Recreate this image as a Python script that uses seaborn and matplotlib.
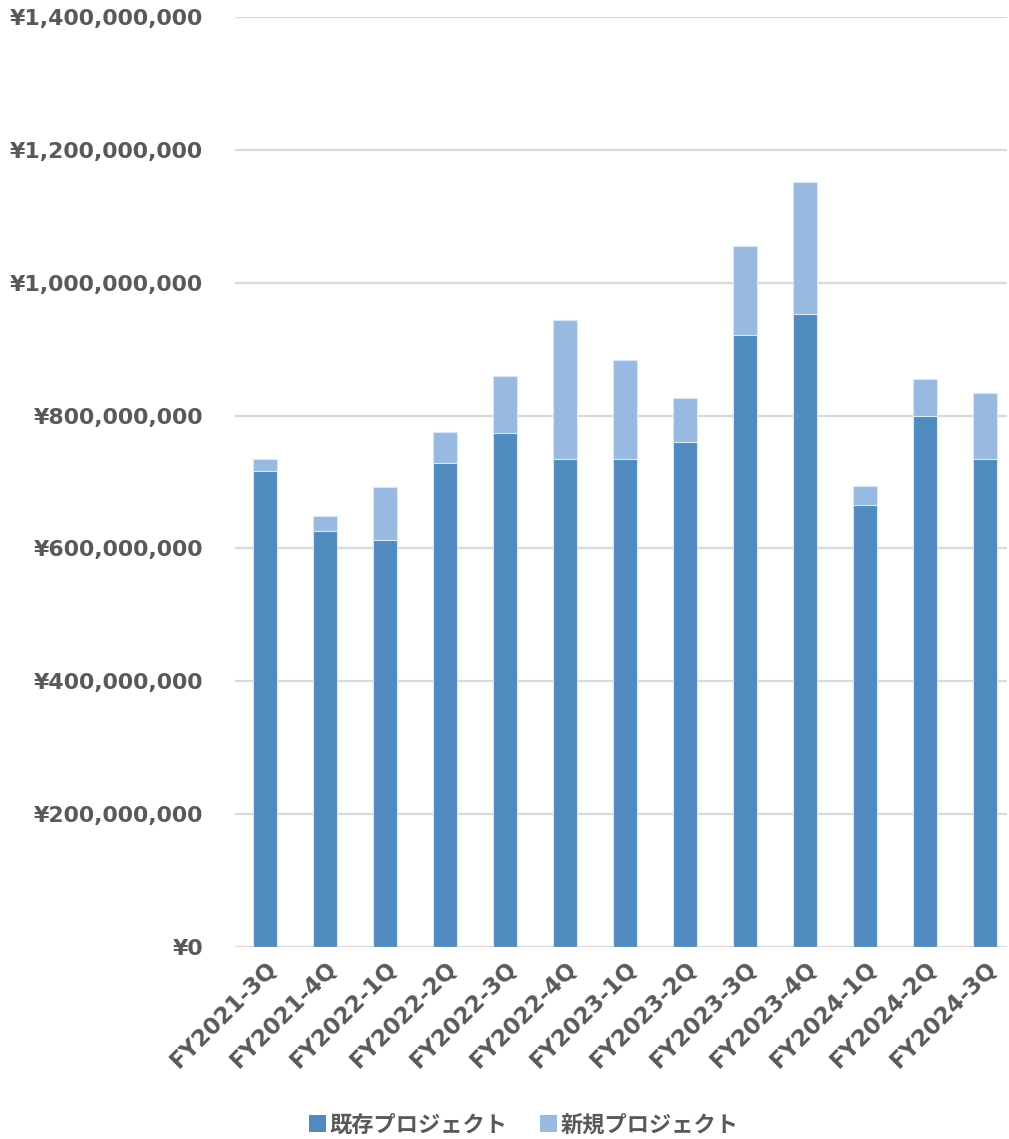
import matplotlib
matplotlib.use("Agg")
import matplotlib.pyplot as plt
from matplotlib.patches import Patch
from matplotlib.ticker import FuncFormatter, MultipleLocator
import numpy as np
import pandas as pd
import seaborn as sns

# Quarterly revenue by project type (yen)
quarters = ["FY2021-3Q", "FY2021-4Q", "FY2022-1Q", "FY2022-2Q", "FY2022-3Q",
            "FY2022-4Q", "FY2023-1Q", "FY2023-2Q", "FY2023-3Q", "FY2023-4Q",
            "FY2024-1Q", "FY2024-2Q", "FY2024-3Q"]
existing = [716e6, 627e6, 612e6, 729e6, 774e6, 734e6, 734e6,
            761e6, 921e6, 953e6, 666e6, 800e6, 734e6]
new = [19e6, 22e6, 81e6, 47e6, 86e6, 210e6, 150e6,
       66e6, 134e6, 199e6, 28e6, 55e6, 100e6]
series_names = ["既存プロジェクト", "新規プロジェクト"]

DARK = "#4F8BBE"
LIGHT = "#98B9E0"
TEXT = "#595959"
GRID = "#D9D9D9"

sns.set_theme(style="white")
plt.rcParams["font.family"] = ["DejaVu Sans", "Noto Sans CJK JP"]

df = pd.DataFrame({"quarter": quarters, "existing": existing, "new": new})
df["total"] = df["existing"] + df["new"]

fig = plt.figure(figsize=(10.09, 11.39), dpi=100)
ax = fig.add_axes([0.2329, 0.1686, 0.7651, 0.8164])

# stacked bars: full height in the light colour, existing part on top of it
sns.barplot(data=df, x="quarter", y="total", color=LIGHT, width=0.4,
            saturation=1, edgecolor="#DCE7F4", linewidth=0.8, ax=ax, zorder=3)
sns.barplot(data=df, x="quarter", y="existing", color=DARK, width=0.4,
            saturation=1, edgecolor="#DCE7F4", linewidth=0.8, ax=ax, zorder=4)

ax.set_ylim(0, 1.4e9)
ax.set_xlim(-0.5, 12.36)
ax.yaxis.set_major_locator(MultipleLocator(2e8))
ax.yaxis.set_major_formatter(FuncFormatter(lambda v, p: f"¥{v:,.0f}"))
ax.grid(axis="y", color=GRID, linewidth=1.6, zorder=0)
ax.set_axisbelow(True)
for s in ax.spines.values():
    s.set_visible(False)
ax.set_xlabel("")
ax.set_ylabel("")
ax.tick_params(axis="both", length=0)
ax.tick_params(axis="y", pad=23, labelsize=15.8, labelcolor=TEXT)
ax.tick_params(axis="x", pad=7, labelsize=16.5, labelcolor=TEXT)
for lab in ax.get_yticklabels():
    lab.set_fontweight("bold")
for lab in ax.get_xticklabels():
    lab.set_fontweight("bold")
    lab.set_rotation(45)
    lab.set_ha("right")
    lab.set_rotation_mode("anchor")

handles = [Patch(facecolor=DARK, edgecolor="none"),
           Patch(facecolor=LIGHT, edgecolor="none")]
leg = fig.legend(handles, series_names, loc="center", bbox_to_anchor=(0.519, 0.0125),
                 ncol=2, frameon=False, handlelength=0.75, handleheight=0.75,
                 handletextpad=0.15, columnspacing=1.5,
                 prop={"family": ["Noto Sans CJK JP"], "weight": "bold", "size": 16})
for t in leg.get_texts():
    t.set_color(TEXT)

fig.savefig("out.png", dpi=100)
